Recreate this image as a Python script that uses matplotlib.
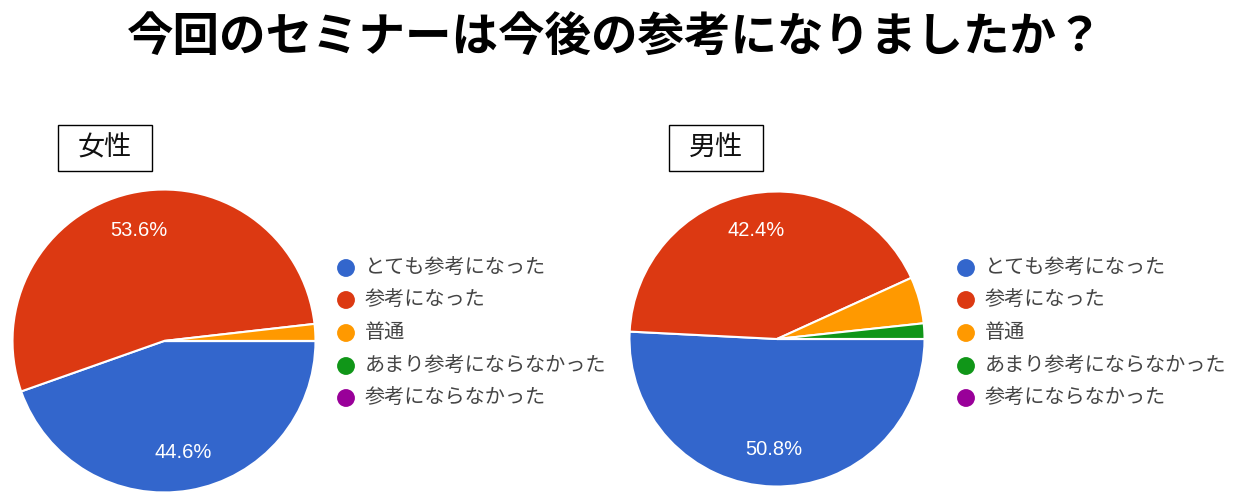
import matplotlib
matplotlib.use('Agg')
from matplotlib import pyplot as plt
from matplotlib.patches import Rectangle

plt.rcParams['font.family'] = ['Noto Sans CJK JP', 'DejaVu Sans']

title = '今回のセミナーは今後の参考になりましたか？'
categories = ['とても参考になった', '参考になった', '普通', 'あまり参考にならなかった', '参考にならなかった']
colors = ['#3366cc', '#dc3912', '#ff9900', '#109618', '#990099']
female = [44.6, 53.6, 1.8, 0, 0]
male = [50.8, 42.4, 5.1, 1.7, 0]
groups = ['女性', '男性']

W, H = 1234, 499
fig = plt.figure(figsize=(W / 100, H / 100), dpi=100)

# pie axes, placed in pixels (left, top, size)
pies = [(female, (11, 188, 306)), (male, (628, 190, 298))]
for vals, (px, py, sz) in pies:
    ax = fig.add_axes([px / W, 1 - (py + sz) / H, sz / W, sz / H])
    ax.pie(vals, colors=colors, startangle=0, counterclock=False, radius=1,
           autopct=lambda p: f'{p:.1f}%' if p > 10 else '',
           pctdistance=0.75,
           wedgeprops=dict(edgecolor='white', linewidth=1.5),
           textprops=dict(color='white', fontsize=14.5, family='Liberation Sans'))
    ax.set_xlim(-1.01, 1.01)
    ax.set_ylim(-1.01, 1.01)
    ax.set_aspect('equal')
    ax.axis('off')

# overlay in pixel coords for title, boxes and legends
ov = fig.add_axes([0, 0, 1, 1], zorder=5)
ov.set_xlim(0, W)
ov.set_ylim(H, 0)
ov.axis('off')
ov.patch.set_alpha(0)

ov.text(615, 38, title, fontsize=33.5, fontweight='bold', ha='center', va='center', color='black')

for name, (bx, by) in zip(groups, [(58, 125), (669, 125)]):
    ov.add_patch(Rectangle((bx, by), 94, 46, fill=False, edgecolor='black', linewidth=1))
    ov.text(bx + 47, by + 23, name, fontsize=19.5, ha='center', va='center', color='#111111')

row_y = [268, 300, 333, 366, 398]
for lx in [346, 966]:
    for cat, col, y in zip(categories, colors, row_y):
        ov.scatter([lx], [y], s=165, color=col, edgecolors='none')
        ov.text(lx + 19, y, cat, fontsize=14.5, ha='left', va='center', color='#444444')

fig.savefig('out.png', dpi=100)
